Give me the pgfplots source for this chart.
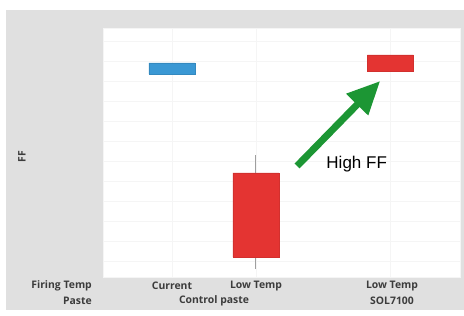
\documentclass[border=0pt]{standalone}
\usepackage{pgfplots}
\pgfplotsset{compat=1.18}
\usepackage{fontspec}
\setmainfont{Open Sans}
\newfontfamily\arialfont{Liberation Sans}
\usetikzlibrary{arrows.meta}
\definecolor{panelgray}{RGB}{224,224,224}
\definecolor{ffblue}{RGB}{58,152,212}
\definecolor{ffred}{RGB}{228,52,50}
\definecolor{ffgreen}{RGB}{28,150,52}
\definecolor{lblgray}{RGB}{60,60,60}
\begin{document}
\begin{tikzpicture}[x=1pt,y=1pt]
\path[use as bounding box] (0,0) rectangle (464,316);
\fill[panelgray] (6,6) rectangle (464,306);
\begin{axis}[
  at={(103pt,39pt)}, anchor=south west, scale only axis,
  width=357pt, height=249pt,
  xmin=0.18, xmax=4.43, ymin=0, ymax=249,
  xtick={1,2,3.6}, xticklabels={},
  ytick={16,36,...,236}, yticklabels={},
  major tick length=0,
  grid=major, grid style={gray!8, line width=0.6pt},
  axis line style={gray!8},
  axis background/.style={fill=white},
  clip=false]
% whisker of middle group
\addplot[gray!75, line width=0.8pt] coordinates {(2,8) (2,122)};
% Current / Control paste
\addplot[fill=ffblue, draw=ffblue!90!black, line width=0.5pt]
  coordinates {(0.726,203) (1.274,203) (1.274,214) (0.726,214) (0.726,203)};
% Low Temp / Control paste
\addplot[fill=ffred, draw=ffred!92!black, line width=0.5pt]
  coordinates {(1.726,20) (2.274,20) (2.274,104) (1.726,104) (1.726,20)};
% Low Temp / SOL7100
\addplot[fill=ffred, draw=ffred!92!black, line width=0.5pt]
  coordinates {(3.326,206) (3.874,206) (3.874,222) (3.326,222) (3.326,206)};
\draw[ffgreen, line width=7pt, -{Triangle[length=33pt,width=29pt]}]
  (axis cs:2.49,111) -- (axis cs:3.48,196);
\node[font=\arialfont\fontsize{17}{20}\selectfont] at (axis cs:3.20,113) {High FF};
\end{axis}
\begin{scope}[every node/.style={font=\fontsize{10.4}{12}\selectfont\bfseries, text=lblgray, inner sep=0pt}]
\node[anchor=east] at (92,30) {Firing Temp};
\node[anchor=east] at (92,15) {Paste};
\node at (172,30) {Current};
\node at (256,30) {Low Temp};
\node at (392,30) {Low Temp};
\node at (214,15) {Control paste};
\node at (392,15) {SOL7100};
\node[rotate=90] at (22,159) {FF};
\end{scope}
\end{tikzpicture}
\end{document}
